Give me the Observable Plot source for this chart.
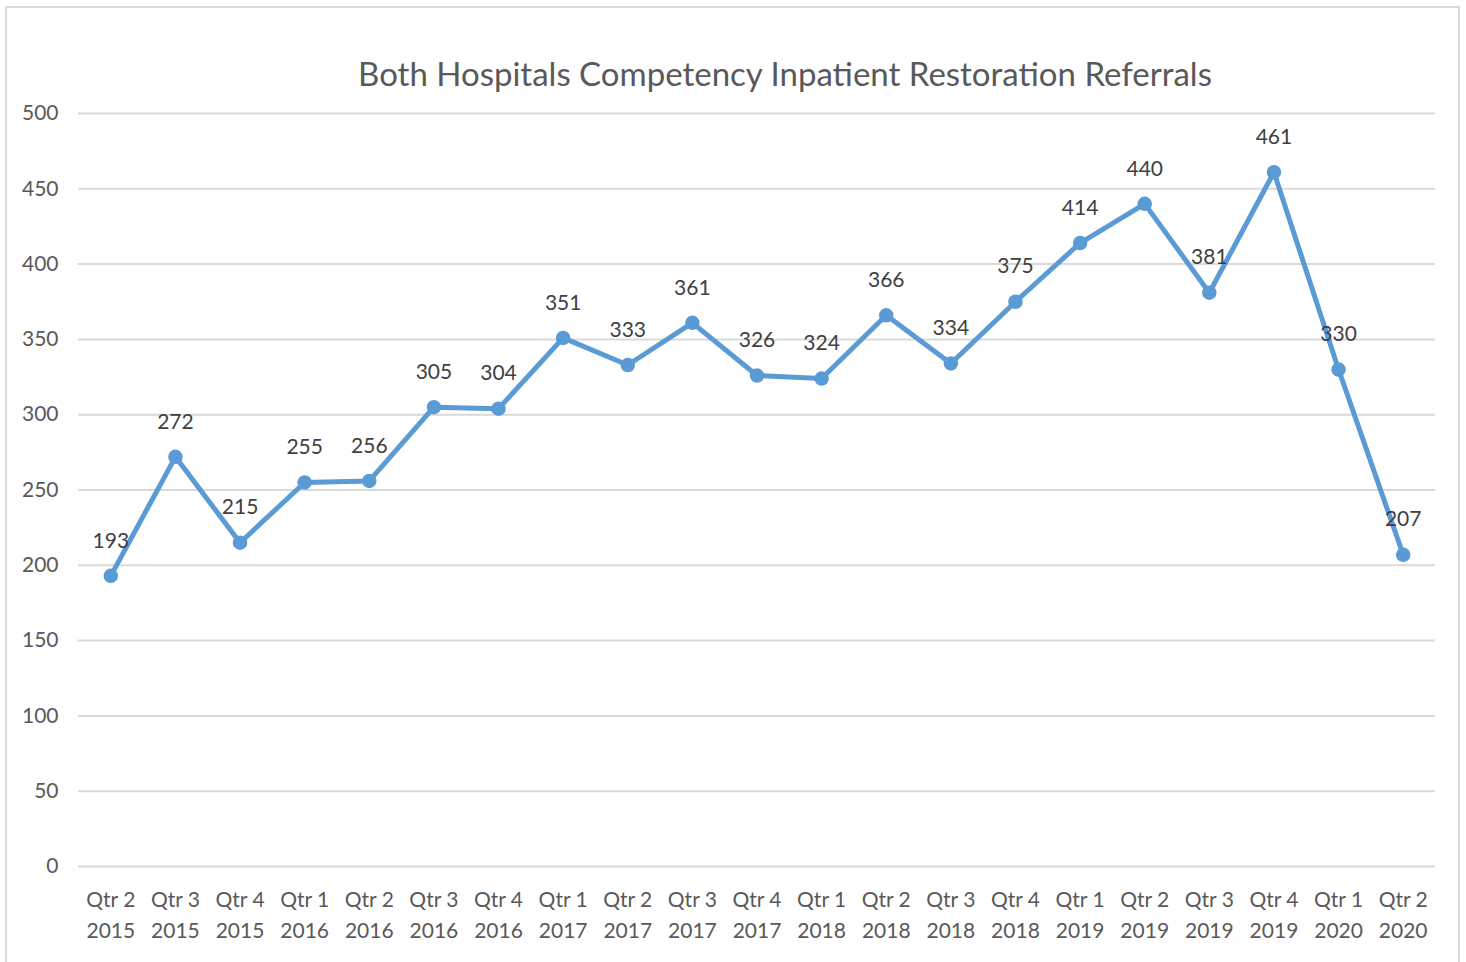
<!DOCTYPE html>
<html><head><meta charset="utf-8">
<script src="https://cdn.jsdelivr.net/npm/d3@7"></script>
<script src="https://cdn.jsdelivr.net/npm/@observablehq/plot@0.6"></script>
<style>
body{margin:0;background:#fff;font-family:Lato,"Open Sans",sans-serif;}
#wrap{position:relative;width:1466px;height:962px;overflow:hidden;}
#frame{position:absolute;left:5px;top:6px;width:1455px;height:1000px;border:2px solid #d9d9d9;box-sizing:border-box;}
#title{position:absolute;left:0;width:1466px;top:53px;text-align:center;font-size:33px;color:#595959;padding-left:104px;box-sizing:border-box;}
#chart{position:absolute;left:0;top:0;}
</style></head>
<body><div id="wrap"><div id="frame"></div><div id="chart"></div><div id="title">Both Hospitals Competency Inpatient Restoration Referrals</div></div>
<script>
const quarters = ["Qtr 2","Qtr 3","Qtr 4","Qtr 1","Qtr 2","Qtr 3","Qtr 4","Qtr 1","Qtr 2","Qtr 3","Qtr 4","Qtr 1","Qtr 2","Qtr 3","Qtr 4","Qtr 1","Qtr 2","Qtr 3","Qtr 4","Qtr 1","Qtr 2"];
const years = ["2015","2015","2015","2016","2016","2016","2016","2017","2017","2017","2017","2018","2018","2018","2018","2019","2019","2019","2019","2020","2020"];
const referrals = [193,272,215,255,256,305,304,351,333,361,326,324,366,334,375,414,440,381,461,330,207];
const yTicks = [0,50,100,150,200,250,300,350,400,450,500];

const data = referrals.map((v,i)=>({key: quarters[i]+"\n"+years[i], value: v}));
const domain = data.map(d=>d.key);

const chart = Plot.plot({
  width: 1466,
  height: 962,
  marginLeft: 78,
  marginRight: 31,
  marginTop: 113,
  marginBottom: 96,
  style: {fontFamily: "Lato, 'Open Sans', sans-serif", fontSize: "20px", color: "#595959", background: "transparent"},
  x: {type: "band", domain, padding: 0, round: false, label: null},
  y: {domain: [0,500], label: null},
  marks: [
    Plot.gridY(yTicks, {stroke: "#d9d9d9", strokeOpacity: 1, strokeWidth: 2}),
    Plot.axisY(yTicks, {tickSize: 0, tickPadding: 20, fontSize: 21, fill: "#595959", label: null}),
    Plot.axisX({tickSize: 0, tickPadding: 18, fontSize: 21, lineHeight: 1.5, fill: "#595959", label: null}),
    Plot.lineY(data, {x: "key", y: "value", stroke: "#5b9bd5", strokeWidth: 5, strokeLinejoin: "round"}),
    Plot.dot(data, {x: "key", y: "value", r: 6.5, fill: "#5b9bd5", stroke: "#5b9bd5"}),
    Plot.text(data, {x: "key", y: "value", text: d=>String(d.value), dy: -35, fontSize: 21, fill: "#404040"})
  ]
});
document.getElementById("chart").append(chart);
</script></body></html>
